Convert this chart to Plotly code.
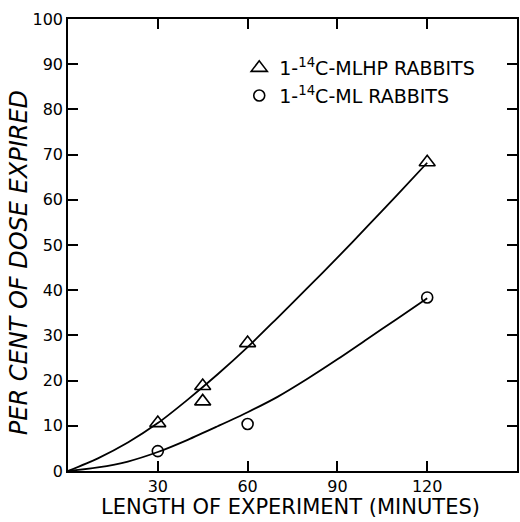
import plotly.graph_objects as go

# Measured points
mlhp_x = [30, 45, 45, 60, 120]
mlhp_y = [10.6, 18.8, 15.4, 28.3, 68.3]
ml_x = [30, 60, 120]
ml_y = [4.4, 10.4, 38.4]

# Fitted curves as drawn
curve_x = [0, 10, 20, 30, 40, 50, 60, 70, 80, 90, 100, 110, 120]
mlhp_curve = [0, 2.8, 6.3, 10.6, 15.8, 21.4, 27.4, 33.9, 40.5, 47.2, 54.1, 61.1, 68.2]
ml_curve = [0, 0.8, 2.1, 4.2, 6.9, 9.9, 13.0, 16.4, 20.4, 24.7, 29.2, 33.7, 38.2]

x_ticks = [30, 60, 90, 120]
y_ticks = [0, 10, 20, 30, 40, 50, 60, 70, 80, 90, 100]

FONT = "DejaVu Sans"
L, R, T, B = 68, 1, 19, 51
W, H = 520, 522
pw, ph = W - L - R, H - T - B

fig = go.Figure()
for cy in (mlhp_curve, ml_curve):
    fig.add_trace(go.Scatter(x=curve_x, y=cy, mode="lines",
                             line=dict(color="black", width=1.8, shape="spline", smoothing=0.8),
                             showlegend=False, hoverinfo="skip"))
fig.add_trace(go.Scatter(x=mlhp_x, y=mlhp_y, mode="markers", name="1-<sup>14</sup>C-MLHP RABBITS", legendgroup="a",
                         marker=dict(symbol="triangle-up-open", size=14, color="black", line=dict(width=1.6, color="black")),
                         cliponaxis=False))
fig.add_trace(go.Scatter(x=ml_x, y=ml_y, mode="markers", name="1-<sup>14</sup>C-ML RABBITS", legendgroup="b",
                         marker=dict(symbol="circle-open", size=11, color="black", line=dict(width=1.6, color="black")),
                         cliponaxis=False))

axis_common = dict(showline=True, linecolor="black", linewidth=1.6, mirror="ticks", ticks="inside",
                   ticklen=10, tickwidth=1.6, tickcolor="black", showgrid=False, zeroline=False,
                   tickfont=dict(family=FONT, size=16, color="black"))
fig.update_xaxes(range=[0, 150], tickvals=x_ticks, ticktext=[str(v) for v in x_ticks], **axis_common)
fig.update_yaxes(range=[0, 100], tickvals=y_ticks, ticktext=[str(v) for v in y_ticks], **axis_common)

fig.add_annotation(text="LENGTH OF EXPERIMENT (MINUTES)", xref="paper", yref="paper",
                   x=(291 - L) / pw, y=(H - B - 507) / ph, xanchor="center", yanchor="middle",
                   showarrow=False, font=dict(family=FONT, size=21, color="black"))
fig.add_annotation(text="<i>PER CENT OF DOSE EXPIRED</i>", xref="paper", yref="paper",
                   x=(19 - L) / pw, y=(H - B - 263) / ph, xanchor="center", yanchor="middle", textangle=-90,
                   showarrow=False, font=dict(family=FONT, size=24, color="black"))

fig.update_layout(
    width=W, height=H, margin=dict(l=L, r=R, t=T, b=B),
    paper_bgcolor="white", plot_bgcolor="white",
    legend=dict(x=(240 - L) / pw, y=(H - B - 49) / ph, xanchor="left", yanchor="top",
                bgcolor="rgba(0,0,0,0)", borderwidth=0, traceorder="grouped", tracegroupgap=0,
                font=dict(family=FONT, size=19, color="black")),
)
fig.write_html("out.html")
